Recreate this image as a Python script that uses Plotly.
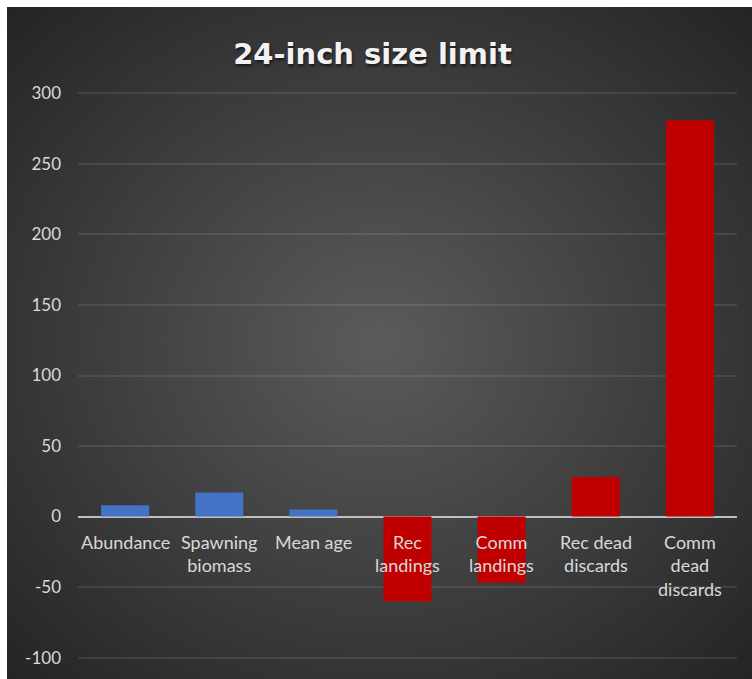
import base64
import plotly.graph_objects as go

# Percent change relative to status quo under a 24-inch size limit
categories = ["Abundance", "Spawning<br>biomass", "Mean age", "Rec<br>landings",
              "Comm<br>landings", "Rec dead<br>discards", "Comm<br>dead<br>discards"]
values = [8, 17, 5, -60, -47, 28, 281]
bar_colors = ["#4472c4", "#4472c4", "#4472c4", "#c00000", "#c00000", "#c00000", "#c00000"]
y_ticks = [-100, -50, 0, 50, 100, 150, 200, 250, 300]

W, H = 752, 679
L, R, T, B = 78, 15, 92, 20
pw, ph = W - L - R, H - T - B

# dark radial-gradient chart backdrop
bx0, by0 = 7, 7
bw, bh = W - bx0, H - by0
svg = (
    f"<svg xmlns='http://www.w3.org/2000/svg' width='{bw}' height='{bh}' "
    f"viewBox='0 0 {bw} {bh}' preserveAspectRatio='none'>"
    "<defs><radialGradient id='g' cx='50%' cy='50%' r='72%'>"
    "<stop offset='0' stop-color='#5b5b5b'/>"
    "<stop offset='1' stop-color='#232323'/>"
    "</radialGradient></defs>"
    f"<rect width='{bw}' height='{bh}' fill='url(#g)'/></svg>"
)
bg_src = "data:image/svg+xml;base64," + base64.b64encode(svg.encode()).decode()

fig = go.Figure(
    go.Bar(
        x=list(range(len(categories))),
        y=values,
        marker=dict(color=bar_colors, line=dict(width=0)),
        width=0.51,
        hoverinfo="skip",
    )
)

# category labels sit just under the zero line
for i, c in enumerate(categories):
    fig.add_annotation(
        x=i, y=0, xref="x", yref="y", text=c, showarrow=False,
        yanchor="top", xanchor="center", align="center", yshift=-12,
        font=dict(family="Lato", size=18, color="#d9d9d9"),
    )

fig.add_layout_image(
    source=bg_src, xref="paper", yref="paper",
    x=(bx0 - L) / pw, y=(H - B - by0) / ph,
    sizex=bw / pw, sizey=bh / ph,
    xanchor="left", yanchor="top", sizing="stretch", layer="below",
)

fig.update_layout(
    width=W, height=H,
    margin=dict(l=L, r=R, t=T, b=B),
    paper_bgcolor="white",
    plot_bgcolor="rgba(0,0,0,0)",
    showlegend=False,
    title=dict(
        text="<b>24-inch size limit</b>",
        x=372.5 / W, xanchor="center", xref="container",
        y=1 - 54 / H, yanchor="middle", yref="container",
        font=dict(family="DejaVu Sans", size=29, color="#f2f2f2",
                  shadow="1px 2px 3px rgba(0,0,0,0.6)"),
    ),
    xaxis=dict(
        range=[-0.5, len(categories) - 0.5],
        showticklabels=False, showgrid=False, zeroline=False,
        showline=False, ticks="", fixedrange=True,
    ),
    yaxis=dict(
        range=[-101, 301], tickvals=y_ticks,
        ticktext=[str(v) for v in y_ticks],
        showgrid=True, gridcolor="rgba(255,255,255,0.09)", gridwidth=1.5,
        zeroline=True, zerolinecolor="#bfbfbf", zerolinewidth=2,
        showline=False, ticks="", ticklabelstandoff=16,
        tickfont=dict(family="Lato", size=17, color="#d9d9d9"),
        fixedrange=True,
    ),
)

fig.write_html("out.html")
